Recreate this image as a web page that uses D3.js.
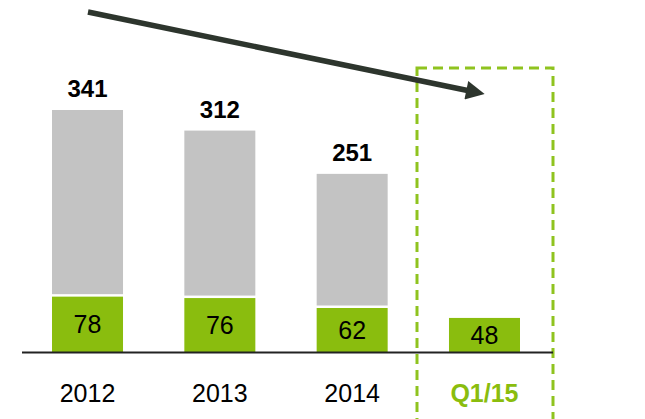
<!DOCTYPE html>
<html>
<head>
<meta charset="utf-8">
<script src="https://cdn.jsdelivr.net/npm/d3@7"></script>
<style>
  body { margin: 0; background: #fff; }
  svg { display: block; font-family: "Liberation Sans", Arial, sans-serif; }
</style>
</head>
<body>
<svg width="645" height="419"></svg>
<script>
"use strict";

const periods = ["2012", "2013", "2014", "Q1/15"];
const totals = [341, 312, 251, null];
const greenPart = [78, 76, 62, 48];

const svg = d3.select("svg");
const green = "#8abd0e";
const gray = "#c3c3c3";

const xScale = d3.scaleBand()
  .domain(periods)
  .range([21.35, 550.65])
  .paddingInner(0.4634)
  .paddingOuter(0.2317);

const yScale = d3.scaleLinear()
  .domain([0, 341])
  .range([352, 110]);

const data = periods.map((p, i) => ({ p, total: totals[i], green: greenPart[i] }));

// dashed highlight box round the last period
svg.append("rect")
  .attr("x", 417)
  .attr("y", 68)
  .attr("width", 136)
  .attr("height", 380)
  .attr("fill", "none")
  .attr("stroke", "#8fc31f")
  .attr("stroke-width", 3)
  .attr("stroke-dasharray", "10,6");

// gray upper part
svg.selectAll("rect.total")
  .data(data.filter(d => d.total != null))
  .enter()
  .append("rect")
  .attr("class", "total")
  .attr("x", d => xScale(d.p))
  .attr("y", d => yScale(d.total))
  .attr("width", xScale.bandwidth())
  .attr("height", d => yScale(d.green) - yScale(d.total) - 2.5)
  .attr("fill", gray);

// green lower part
svg.selectAll("rect.green")
  .data(data)
  .enter()
  .append("rect")
  .attr("class", "green")
  .attr("x", d => xScale(d.p))
  .attr("y", d => yScale(d.green))
  .attr("width", xScale.bandwidth())
  .attr("height", d => yScale(0) - yScale(d.green))
  .attr("fill", green);

svg.selectAll("text.inner")
  .data(data)
  .enter()
  .append("text")
  .attr("class", "inner")
  .attr("x", d => xScale(d.p) + xScale.bandwidth() / 2)
  .attr("y", d => (yScale(d.green) + yScale(0)) / 2 + 9)
  .attr("text-anchor", "middle")
  .attr("font-size", 25)
  .attr("fill", "#000")
  .text(d => d.green);

svg.selectAll("text.total")
  .data(data.filter(d => d.total != null))
  .enter()
  .append("text")
  .attr("class", "total")
  .attr("x", d => xScale(d.p) + xScale.bandwidth() / 2)
  .attr("y", d => yScale(d.total) - 13)
  .attr("text-anchor", "middle")
  .attr("font-size", 24)
  .attr("font-weight", "bold")
  .attr("fill", "#000")
  .text(d => d.total);

// baseline
svg.append("line")
  .attr("x1", 22)
  .attr("x2", 553)
  .attr("y1", yScale(0) + 0.5)
  .attr("y2", yScale(0) + 0.5)
  .attr("stroke", "#222")
  .attr("stroke-width", 2);

// period labels
svg.selectAll("text.period")
  .data(periods)
  .enter()
  .append("text")
  .attr("class", "period")
  .attr("x", d => xScale(d) + xScale.bandwidth() / 2)
  .attr("y", 402)
  .attr("text-anchor", "middle")
  .attr("font-size", 25)
  .attr("font-weight", d => d === "Q1/15" ? "bold" : "normal")
  .attr("fill", d => d === "Q1/15" ? green : "#000")
  .text(d => d);

// trend arrow
svg.append("defs").append("marker")
  .attr("id", "head")
  .attr("viewBox", "0 0 10 10")
  .attr("refX", 2)
  .attr("refY", 5)
  .attr("markerWidth", 4)
  .attr("markerHeight", 3.4)
  .attr("orient", "auto")
  .attr("markerUnits", "strokeWidth")
  .append("path")
  .attr("d", "M0,0 L10,5 L0,10 z")
  .attr("fill", "#2d352d");

svg.append("line")
  .attr("x1", 88)
  .attr("y1", 12)
  .attr("x2", 470)
  .attr("y2", 91)
  .attr("stroke", "#2d352d")
  .attr("stroke-width", 5.5)
  .attr("marker-end", "url(#head)");
</script>
</body>
</html>
